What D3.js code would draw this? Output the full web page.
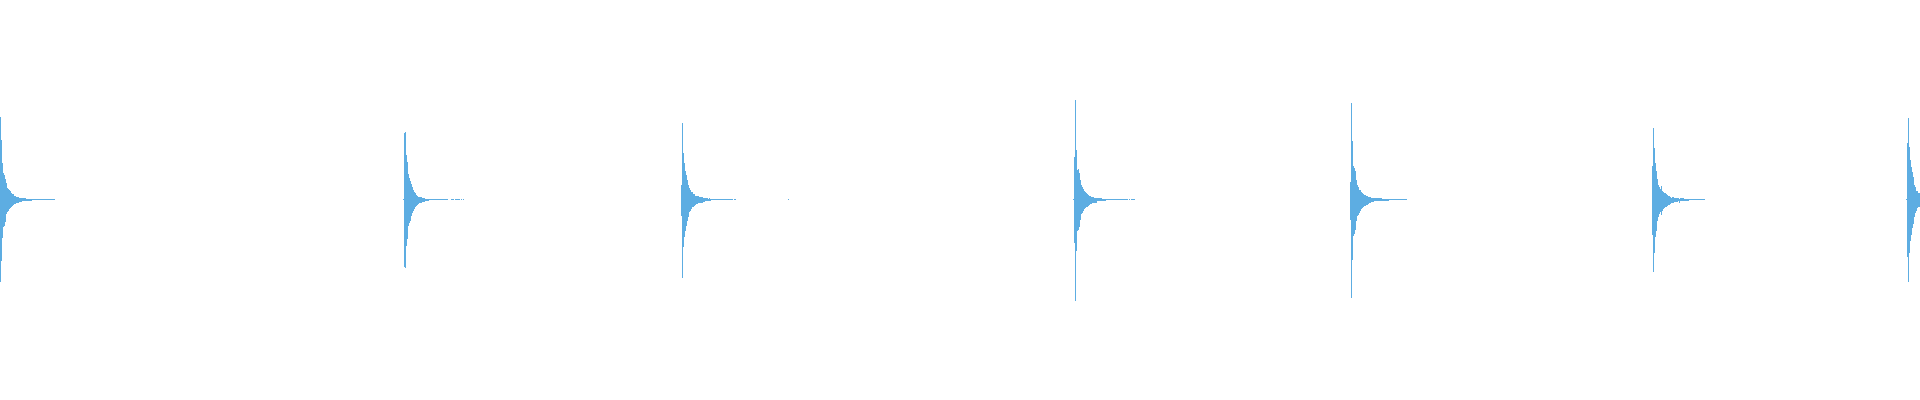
<!DOCTYPE html>
<html>
<head>
<meta charset="utf-8">
<script src="https://cdn.jsdelivr.net/npm/d3@7"></script>
<style>
html,body{margin:0;padding:0;background:#fff;overflow:hidden;}
svg{display:block;}
</style>
</head>
<body>
<div id="chart"></div>
<script>
// Waveform: onset frame of each segment, and per-frame peak (max) / trough (min) amplitudes
const segmentStarts = [0, 403, 681, 788, 1073, 1350, 1652, 1906];

const peaks1 = [0.83,0.60,0.37,0.27,0.25,0.21,0.17,0.12,0.11,0.10,0.09,0.07,0.06,0.06,0.04,0.04,0.03,0.03,0.03,0.02,0.02,0.02,0.015,0.015,0.015,0.015,0.01,0.01,0.01,0.01,0.01,0.01,0.007,0.007,0.007,0.007,0.007,0.007,0.004,0.004,0.004,0.004,0.004,0.004,0.004,0.004,0.004,0.004,0.004,0.004,0.004,0.004,0.004,0.004,0.004];
const troughs1 = [-0.82,-0.61,-0.38,-0.27,-0.26,-0.22,-0.14,-0.12,-0.11,-0.09,-0.08,-0.07,-0.06,-0.05,-0.04,-0.04,-0.03,-0.03,-0.03,-0.02,-0.02,-0.02,-0.015,-0.015,-0.015,-0.015,-0.01,-0.01,-0.01,-0.01,-0.01,-0.01,-0.007,-0.007,-0.007,-0.007,-0.007,-0.007,-0.004,-0.004,-0.004,-0.004,-0.004,-0.004,-0.004,-0.004,-0.004,-0.004,-0.004,-0.004,-0.004,-0.004,-0.004,-0.004,-0.004];

const peaks2 = [0.004,0.67,0.68,0.45,0.38,0.26,0.22,0.19,0.16,0.13,0.10,0.08,0.07,0.05,0.04,0.03,0.03,0.03,0.03,0.02,0.02,0.02,0.01,0.01,0.01,0.01,0.004,0.004,0.004,0.004,0.004,0.004,0.004,0.004,0.004,0.004,0.004,0.004,0.004,0.004,0.004,0.004,0.004,0.004,0.004,0,0,0,0.004,0.004,0.004,0,0.004,0.004,0.004,0.004,0.004,0,0.004,0,0.004];
const troughs2 = [-0.004,-0.67,-0.68,-0.46,-0.39,-0.26,-0.23,-0.21,-0.16,-0.13,-0.11,-0.09,-0.07,-0.06,-0.05,-0.04,-0.03,-0.03,-0.03,-0.02,-0.02,-0.02,-0.01,-0.01,-0.01,-0.01,-0.004,-0.004,-0.004,-0.004,-0.004,-0.004,-0.004,-0.004,-0.004,-0.004,-0.004,-0.004,-0.004,-0.004,-0.004,-0.004,-0.004,-0.004,-0.004,0,0,0,-0.004,-0.004,-0.004,0,-0.004,-0.004,-0.004,-0.004,-0.004,0,-0.004,0,-0.004];

const peaks3 = [0.15,0.77,0.47,0.37,0.29,0.25,0.20,0.15,0.12,0.10,0.08,0.08,0.06,0.06,0.04,0.04,0.04,0.04,0.03,0.03,0.03,0.03,0.02,0.02,0.015,0.015,0.015,0.01,0.015,0.01,0.007,0.007,0.007,0.007,0.007,0.007,0.007,0.007,0.007,0.004,0.004,0.004,0.004,0.004,0.004,0.004,0.004,0.004,0.004,0.004,0.004,0.004,0,0.004,0.004];
const troughs3 = [-0.16,-0.78,-0.47,-0.37,-0.31,-0.26,-0.21,-0.17,-0.12,-0.11,-0.09,-0.07,-0.07,-0.06,-0.05,-0.04,-0.04,-0.03,-0.03,-0.03,-0.03,-0.03,-0.02,-0.02,-0.015,-0.015,-0.015,-0.01,-0.01,-0.01,-0.007,-0.007,-0.007,-0.007,-0.007,-0.007,-0.007,-0.007,-0.007,-0.004,-0.004,-0.004,-0.004,-0.004,-0.004,-0.004,-0.004,-0.004,-0.004,-0.004,-0.004,-0.004,0,-0.004,-0.004];

const peaks4 = [0.004];
const troughs4 = [-0.004];

const peaks5 = [0.004,0.43,1.00,0.50,0.30,0.31,0.27,0.20,0.15,0.13,0.11,0.09,0.08,0.07,0.06,0.05,0.04,0.04,0.03,0.03,0.03,0.02,0.02,0.02,0.015,0.015,0.015,0.015,0.015,0.01,0.01,0.01,0.01,0.004,0.004,0.004,0.004,0.004,0.004,0.004,0.004,0.004,0.004,0.004,0.004,0.004,0.004,0.004,0.004,0.004,0.004,0.004,0.004,0.004,0.004,0,0.004,0,0.004,0.004,0.004,0.004];
const troughs5 = [-0.004,-0.43,-1.01,-0.51,-0.31,-0.30,-0.27,-0.20,-0.14,-0.13,-0.11,-0.09,-0.08,-0.07,-0.07,-0.06,-0.05,-0.04,-0.04,-0.03,-0.03,-0.03,-0.03,-0.03,-0.015,-0.015,-0.015,-0.015,-0.015,-0.01,-0.01,-0.01,-0.01,-0.004,-0.004,-0.004,-0.004,-0.004,-0.004,-0.004,-0.004,-0.004,-0.004,-0.004,-0.004,-0.004,-0.004,-0.004,-0.004,-0.004,-0.004,-0.004,-0.004,-0.004,-0.004,0,-0.004,0,-0.004,-0.004,-0.004,-0.004];

const peaks6 = [0.18,0.97,0.59,0.34,0.32,0.29,0.20,0.15,0.13,0.10,0.10,0.08,0.07,0.06,0.05,0.05,0.04,0.04,0.03,0.03,0.03,0.02,0.02,0.02,0.015,0.015,0.015,0.015,0.015,0.015,0.015,0.015,0.01,0.01,0.01,0.01,0.01,0.01,0.01,0.004,0.004,0.004,0.004,0.004,0.004,0.004,0.004,0.004,0.004,0.004,0.004,0.004,0.004,0.004,0.004,0.004,0.004];
const troughs6 = [-0.20,-0.98,-0.60,-0.36,-0.34,-0.30,-0.21,-0.16,-0.15,-0.13,-0.11,-0.09,-0.08,-0.07,-0.06,-0.06,-0.05,-0.05,-0.04,-0.03,-0.03,-0.023,-0.023,-0.023,-0.015,-0.015,-0.015,-0.015,-0.015,-0.015,-0.015,-0.015,-0.01,-0.01,-0.01,-0.01,-0.01,-0.01,-0.01,-0.004,-0.004,-0.004,-0.004,-0.004,-0.004,-0.004,-0.004,-0.004,-0.004,-0.004,-0.004,-0.004,-0.004,-0.004,-0.004,-0.004,-0.004];

const peaks7 = [0.34,0.72,0.52,0.37,0.29,0.21,0.15,0.13,0.11,0.14,0.09,0.08,0.07,0.07,0.06,0.05,0.04,0.04,0.03,0.02,0.03,0.03,0.02,0.02,0.02,0.02,0.02,0.01,0.015,0.015,0.015,0.015,0.01,0.01,0.01,0.01,0.01,0.004,0.004,0.004,0.004,0.004,0.004,0.004,0.004,0.004,0.004,0.004,0.004,0.004,0.004,0.004,0.004];
const troughs7 = [-0.35,-0.72,-0.53,-0.37,-0.31,-0.21,-0.17,-0.14,-0.12,-0.15,-0.11,-0.09,-0.08,-0.07,-0.07,-0.06,-0.05,-0.05,-0.04,-0.03,-0.03,-0.03,-0.02,-0.02,-0.02,-0.02,-0.015,-0.03,-0.013,-0.013,-0.013,-0.013,-0.01,-0.01,-0.01,-0.01,-0.01,-0.004,-0.004,-0.004,-0.004,-0.004,-0.004,-0.004,-0.004,-0.004,-0.004,-0.004,-0.004,-0.004,-0.004,-0.004,-0.004];

const peaks8 = [0.004,0.57,0.82,0.53,0.40,0.33,0.28,0.23,0.15,0.13,0.09,0.09,0.07,0.07];
const troughs8 = [-0.004,-0.57,-0.82,-0.53,-0.41,-0.35,-0.28,-0.24,-0.17,-0.13,-0.11,-0.08,-0.07,-0.07];

const segmentPeaks = [peaks1, peaks2, peaks3, peaks4, peaks5, peaks6, peaks7, peaks8];
const segmentTroughs = [troughs1, troughs2, troughs3, troughs4, troughs5, troughs6, troughs7, troughs8];

const totalFrames = 1920;
const waveColor = "#5DADE2";

const W = 1920, H = 400;
const svg = d3.select("#chart").append("svg").attr("width", W).attr("height", H);

const x = d3.scaleLinear().domain([0, totalFrames]).range([0, W]);
const y = d3.scaleLinear().domain([-1, 1]).range([299.5, 99.5]);

const frames = [];
segmentStarts.forEach((s, k) => {
  segmentPeaks[k].forEach((p, i) => {
    const t = segmentTroughs[k][i];
    if (p === 0 && t === 0) return;
    frames.push({frame: s + i, max: p, min: t});
  });
});

svg.append("g")
  .attr("shape-rendering", "crispEdges")
  .selectAll("rect")
  .data(frames)
  .join("rect")
  .attr("x", d => x(d.frame))
  .attr("width", d => x(d.frame + 1) - x(d.frame))
  .attr("y", d => y(d.max))
  .attr("height", d => Math.max(1, y(d.min) - y(d.max)))
  .attr("fill", waveColor);
</script>
</body>
</html>
